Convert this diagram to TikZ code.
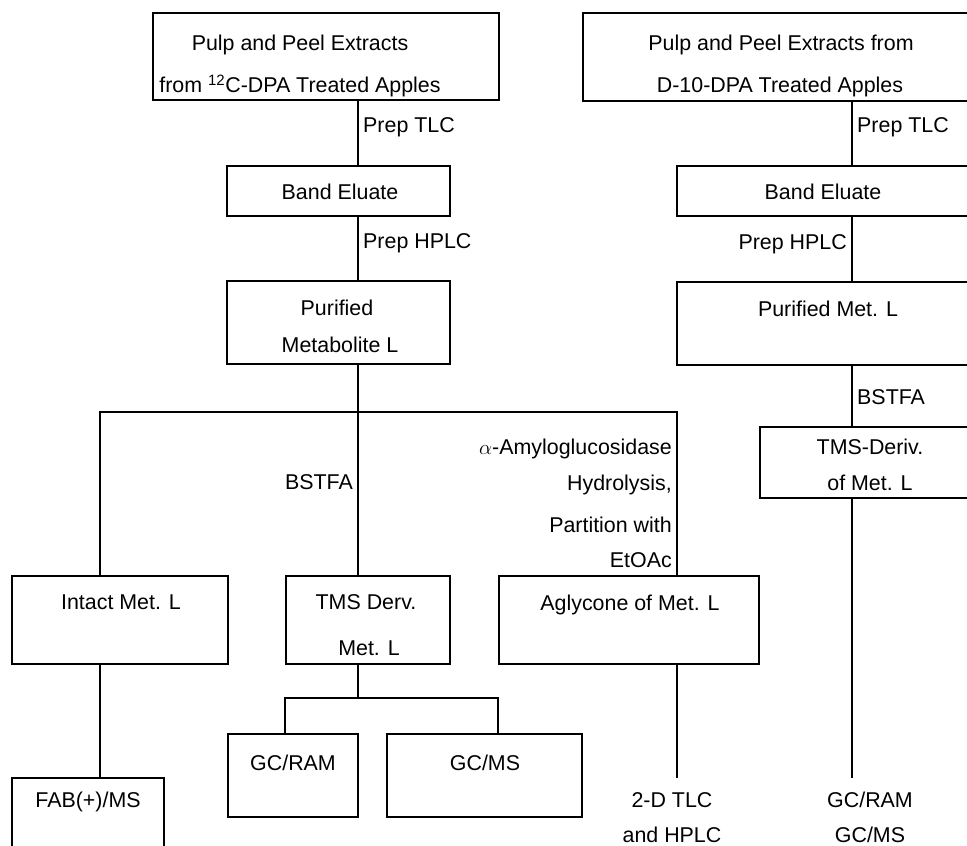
\documentclass[tikz,border=0pt]{standalone}
\usepackage{fontspec}
\setmainfont{Liberation Sans}
\begin{document}
\begin{tikzpicture}[x=1pt,y=-1pt,
  box/.style={draw, line width=2.4pt, rectangle, inner sep=0pt},
  conn/.style={line width=2.4pt},
  txt/.style={inner sep=0pt, font=\fontsize{21.4}{25}\selectfont}]
\useasboundingbox (0,0) rectangle (967,846);
\clip (0,0) rectangle (967,846);
\fill[white] (0,0) rectangle (967,846);
% boxes
\node[box, minimum width=346pt, minimum height=87pt] (b1) at (326,56.5) {};
\node[box, minimum width=427pt, minimum height=88pt] (b2) at (796.5,57) {};
\node[box, minimum width=223pt, minimum height=50pt] (bl) at (338.5,191) {};
\node[box, minimum width=333pt, minimum height=50pt] (br) at (843.5,191) {};
\node[box, minimum width=223pt, minimum height=83pt] (pl) at (338.5,322.5) {};
\node[box, minimum width=333pt, minimum height=83pt] (pr) at (843.5,323.5) {};
\node[box, minimum width=250pt, minimum height=71pt] (tr) at (885,462.5) {};
\node[box, minimum width=216pt, minimum height=88pt] (in) at (120,620) {};
\node[box, minimum width=164pt, minimum height=88pt] (td) at (368,620) {};
\node[box, minimum width=260pt, minimum height=88pt] (ag) at (629,620) {};
\node[box, minimum width=152pt, minimum height=102pt] (fab) at (88,829) {};
\node[box, minimum width=130pt, minimum height=83pt] (gr) at (293,775.5) {};
\node[box, minimum width=195pt, minimum height=83pt] (gm) at (484.5,775.5) {};
% trunk coordinates
\coordinate (xL) at (358,0);
\coordinate (xR) at (852,0);
\coordinate (xA) at (677,0);
\coordinate (xI) at (100,0);
\coordinate (xG1) at (285,0);
\coordinate (xG2) at (498,0);
\coordinate (split1) at (358,412);
\coordinate (split2) at (358,698);
\coordinate (endA) at (677,778);
\coordinate (endR) at (852,778);
% connectors
\draw[conn] (b1.south -| xL) -- (bl.north -| xL);
\draw[conn] (bl.south -| xL) -- (pl.north -| xL);
\draw[conn] (pl.south -| xL) -- (split1);
\draw[conn] (in.north -| xI) -- (split1 -| xI) -- (split1 -| xA) -- (ag.north -| xA);
\draw[conn] (split1) -- (td.north -| xL);
\draw[conn] (in.south -| xI) -- (fab.north -| xI);
\draw[conn] (td.south -| xL) -- (split2);
\draw[conn] (gr.north -| xG1) -- (split2 -| xG1) -- (split2 -| xG2) -- (gm.north -| xG2);
\draw[conn] (ag.south -| xA) -- (endA);
\draw[conn] (b2.south -| xR) -- (br.north -| xR);
\draw[conn] (br.south -| xR) -- (pr.north -| xR);
\draw[conn] (pr.south -| xR) -- (tr.north -| xR);
\draw[conn] (tr.south -| xR) -- (endR);
% texts
\node[txt, anchor=base] (t1a) at (300,50.7) {Pulp and Peel Extracts};
\node[txt, anchor=base] (t1b) at (300,92.7) {from \textsuperscript{12}C-DPA Treated Apples};
\node[txt, anchor=base] (t2a) at (781,50.7) {Pulp and Peel Extracts from};
\node[txt, anchor=base] (t2b) at (780,92.7) {D-10-DPA Treated Apples};
\node[txt, anchor=base west] (l1) at (363,132.7) {Prep TLC};
\node[txt, anchor=base west] (l2) at (857,132.7) {Prep TLC};
\node[txt, anchor=base] (t3) at (340,199.7) {Band Eluate};
\node[txt, anchor=base] (t4) at (823,199.7) {Band Eluate};
\node[txt, anchor=base west] (l3) at (363,248.7) {Prep HPLC};
\node[txt, anchor=base east] (l4) at (847,249.7) {Prep HPLC};
\node[txt, anchor=base] (t5a) at (337,315.7) {Purified};
\node[txt, anchor=base] (t5b) at (340,352.7) {Metabolite L};
\node[txt, anchor=base] (t6) at (828,316.7) {Purified Met. L};
\node[txt, anchor=base west] (l5) at (857,404.7) {BSTFA};
\node[txt, anchor=base] (t7a) at (870,454.7) {TMS-Deriv.};
\node[txt, anchor=base] (t7b) at (870,490.7) {of Met. L};
\node[txt, anchor=base east] (l6) at (353,489.7) {BSTFA};
\node[txt, anchor=base east] (l7a) at (672,454.7) {$\alpha$-Amyloglucosidase};
\node[txt, anchor=base east] (l7b) at (672,490.7) {Hydrolysis,};
\node[txt, anchor=base east] (l7c) at (672,532.7) {Partition with};
\node[txt, anchor=base east] (l7d) at (672,567.7) {EtOAc};
\node[txt, anchor=base] (t8) at (121,609.7) {Intact Met. L};
\node[txt, anchor=base] (t9a) at (366,609.7) {TMS Derv.};
\node[txt, anchor=base] (t9b) at (369,655.7) {Met. L};
\node[txt, anchor=base] (t10) at (630,610.7) {Aglycone of Met. L};
\node[txt, anchor=base] (t11) at (293,770.7) {GC/RAM};
\node[txt, anchor=base] (t12) at (485,770.7) {GC/MS};
\node[txt, anchor=base] (t13) at (88,807.7) {FAB(+)/MS};
\node[txt, anchor=base] (t14a) at (672,807.7) {2-D TLC};
\node[txt, anchor=base] (t14b) at (672,842.7) {and HPLC};
\node[txt, anchor=base] (t15a) at (870,807.7) {GC/RAM};
\node[txt, anchor=base] (t15b) at (870,842.7) {GC/MS};
\end{tikzpicture}
\end{document}
